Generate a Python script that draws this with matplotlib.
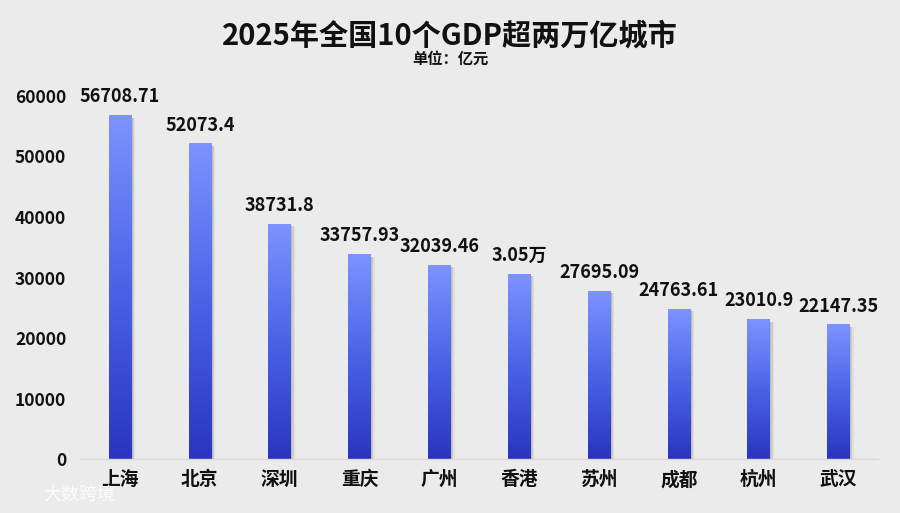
import matplotlib
matplotlib.use("Agg")
import matplotlib.pyplot as plt
import numpy as np
from matplotlib.colors import LinearSegmentedColormap

plt.rcParams['font.family'] = ['Noto Sans CJK SC', 'DejaVu Sans']

cities = ['上海', '北京', '深圳', '重庆', '广州', '香港', '苏州', '成都', '杭州', '武汉']
values = [56708.71, 52073.4, 38731.8, 33757.93, 32039.46, 30500, 27695.09, 24763.61, 23010.9, 22147.35]
labels = ['56708.71', '52073.4', '38731.8', '33757.93', '32039.46', '3.05万', '27695.09', '24763.61', '23010.9', '22147.35']
yticks = [0, 10000, 20000, 30000, 40000, 50000, 60000]

bg = '#ebebeb'
fig = plt.figure(figsize=(9, 5.13), dpi=100, facecolor=bg)
ax = fig.add_axes([0.089, 0.105, 0.887, 0.708])
ax.set_facecolor(bg)

cmap = LinearSegmentedColormap.from_list('g', ['#2a34c0', '#4a63e6', '#7d93ff'])
grad = np.linspace(0, 1, 256).reshape(-1, 1)
w = 0.28
x = np.arange(len(cities))
for xi, v, lab in zip(x, values, labels):
    # shadow
    for k, a in [(0.05, 0.08), (0.035, 0.12), (0.02, 0.16)]:
        ax.add_patch(plt.Rectangle((xi - w / 2 + k, -300), w, v, color='#555555',
                                   alpha=a, lw=0, zorder=1))
    ax.imshow(grad, extent=(xi - w / 2, xi + w / 2, 0, v), origin='lower',
              cmap=cmap, aspect='auto', zorder=2)
    ax.text(xi, v + 1550, lab, ha='center', va='bottom', fontsize=13,
            fontweight='bold', color='#111111', clip_on=False, zorder=3)

ax.set_xlim(-0.5, 9.5)
ax.set_ylim(0, 60000)
ax.set_xticks(x)
ax.set_xticklabels(cities, fontsize=13.5, fontweight='bold', color='#111111')
ax.set_yticks(yticks)
ax.set_yticklabels([str(t) for t in yticks], fontsize=12.5, fontweight='bold', color='#111111')
ax.tick_params(axis='both', length=0)
ax.tick_params(axis='y', pad=10)
ax.tick_params(axis='x', pad=8)
for s in ['top', 'right', 'left']:
    ax.spines[s].set_visible(False)
ax.spines['bottom'].set_color('#d9d9d9')
ax.spines['bottom'].set_linewidth(1)

fig.text(0.5, 0.931, '2025年全国10个GDP超两万亿城市', ha='center', va='center',
         fontsize=21, fontweight='bold', color='#111111')
fig.text(0.5, 0.885, '单位：亿元', ha='center', va='center',
         fontsize=11, fontweight='bold', color='#111111')
fig.text(0.048, 0.035, '大数跨境', ha='left', va='center', fontsize=13,
         color='#ffffff', alpha=0.9)

fig.savefig('out.png', dpi=100, facecolor=bg)
